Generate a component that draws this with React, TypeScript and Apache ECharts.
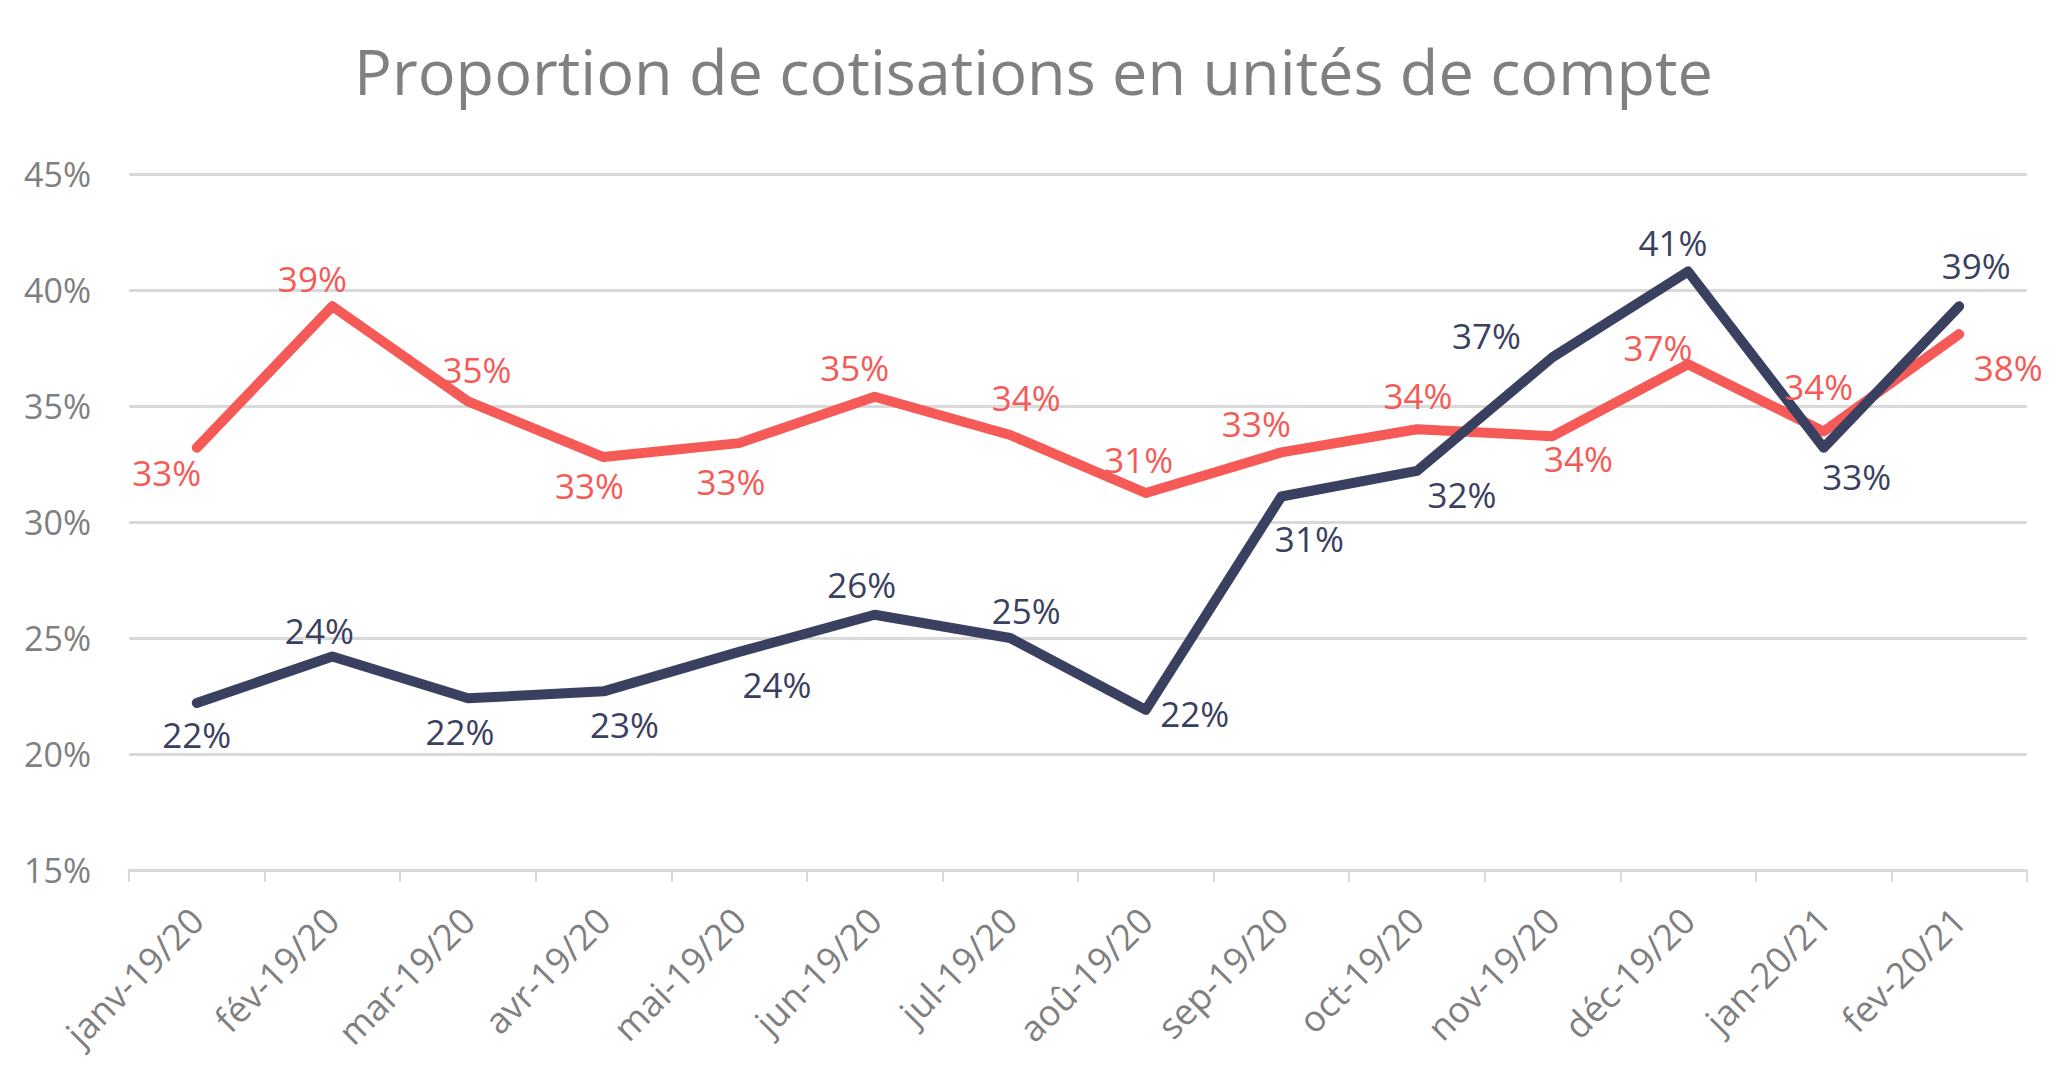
import React, { useEffect, useRef } from "react";
import * as echarts from "echarts";

const categories = [
  "janv-19/20", "fév-19/20", "mar-19/20", "avr-19/20", "mai-19/20", "jun-19/20", "jul-19/20",
  "aoû-19/20", "sep-19/20", "oct-19/20", "nov-19/20", "déc-19/20", "jan-20/21", "fev-20/21",
];
const darkValues = [22.2, 24.2, 22.4, 22.7, 24.4, 26.0, 25.0, 21.9, 31.1, 32.2, 37.1, 40.8, 33.2, 39.3];
const redValues = [33.2, 39.3, 35.2, 32.8, 33.4, 35.4, 33.75, 31.25, 33.0, 34.0, 33.7, 36.8, 33.9, 38.1];

// label offsets (relative to point) — styling only
const darkLabelOffsets = [
  [0, 32], [-13, -26], [-8, 33], [21, 33], [38, 33], [-13, -30], [16, -28],
  [49, 4], [28, 42], [45, 24], [-66, -22], [-15, -29], [33, 29], [17, -41],
];
const redLabelOffsets = [
  [-30, 25], [-20, -28], [9, -32], [-14, 28], [-8, 38], [-20, -29], [16, -38],
  [-7, -34], [-25, -29], [1, -34], [26, 22], [-30, -17], [-5, -45], [49, 33],
];

const DARK = "#3a4160";
const RED = "#f55a57";
const GRAY = "#7f7f7f";
const GRID = "#d9d9d9";
const FONT = "Open Sans";

function buildSeries(name: string, values: number[], offsets: number[][], color: string) {
  return {
    name,
    type: "line",
    data: values.map((v, i) => ({
      value: v,
      label: { offset: offsets[i] },
    })),
    symbol: "circle",
    symbolSize: 2,
    showSymbol: true,
    itemStyle: { color },
    lineStyle: { color, width: 10, join: "round", cap: "round" },
    label: {
      show: true,
      position: "inside",
      align: "center",
      verticalAlign: "middle",
      color,
      fontFamily: FONT,
      fontSize: 35,
      formatter: (p: any) => Math.round(p.value) + "%",
    },
    emphasis: { disabled: true },
  };
}

export default function App() {
  const ref = useRef<HTMLDivElement>(null);
  useEffect(() => {
    document.body.style.margin = "0";
    const chart = echarts.init(ref.current!, null, { renderer: "svg" });
    chart.setOption({
      animation: false,
      backgroundColor: "#ffffff",
      title: {
        text: "Proportion de cotisations en unités de compte",
        left: "center",
        top: 34,
        textStyle: {
          fontFamily: FONT,
          fontSize: 63,
          fontWeight: "normal",
          color: "#808080",
        },
      },
      grid: { left: 129, right: 40, top: 174, bottom: 204 },
      xAxis: {
        type: "category",
        data: categories,
        boundaryGap: true,
        axisLine: { lineStyle: { color: GRID, width: 3 } },
        axisTick: { show: true, length: 12, lineStyle: { color: GRID, width: 2 } },
        axisLabel: {
          interval: 0,
          rotate: 45,
          margin: 44,
          color: GRAY,
          fontFamily: FONT,
          fontSize: 36,
        },
      },
      yAxis: {
        type: "value",
        min: 15,
        max: 45,
        interval: 5,
        axisLine: { show: false },
        axisTick: { show: false },
        splitLine: { lineStyle: { color: GRID, width: 3 } },
        axisLabel: {
          formatter: "{value}%",
          color: GRAY,
          fontFamily: FONT,
          fontSize: 34,
          margin: 38,
        },
      },
      series: [
        buildSeries("Série 1", redValues, redLabelOffsets, RED),
        buildSeries("Série 2", darkValues, darkLabelOffsets, DARK),
      ],
    });
    return () => chart.dispose();
  }, []);
  return <div ref={ref} style={{ width: 2067, height: 1074 }} />;
}
